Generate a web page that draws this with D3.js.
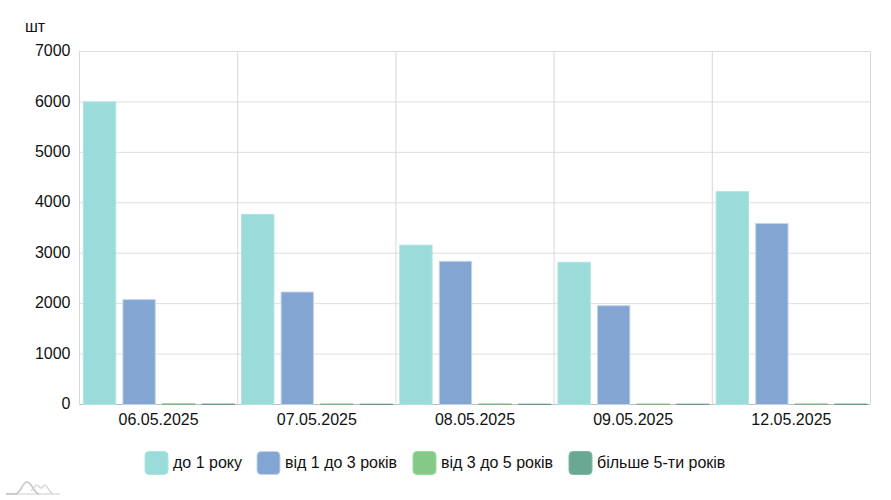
<!DOCTYPE html>
<html>
<head>
<meta charset="utf-8">
<script src="https://cdn.jsdelivr.net/npm/d3@7"></script>
<style>
  html, body { margin: 0; padding: 0; background: #fff; }
  text { font-family: "Liberation Sans", Arial, sans-serif; fill: #111; }
</style>
</head>
<body>
<svg id="chart" width="891" height="500"></svg>
<script>
const dates = ['06.05.2025', '07.05.2025', '08.05.2025', '09.05.2025', '12.05.2025'];
const seriesNames = ['до 1 року', 'від 1 до 3 років', 'від 3 до 5 років', 'більше 5-ти років'];
const upTo1 = [6000, 3770, 3160, 2820, 4220];
const from1To3 = [2080, 2230, 2840, 1960, 3590];
const from3To5 = [12, 10, 10, 8, 10];
const over5 = [8, 6, 6, 6, 8];
const yTicks = [0, 1000, 2000, 3000, 4000, 5000, 6000, 7000];
const unitLabel = 'шт';

const colors = ['#99dcda', '#82a5d2', '#85c988', '#6ba894'];
const borders = ['#ade3e1', '#c3d4ea', '#85b488', '#6b9a8c'];
const allSeries = [upTo1, from1To3, from3To5, over5];

const margins = { top: 51.5, bottom: 95.5, left: 79.5, right: 20.5 };
const width = 891;
const height = 500;

const svg = d3.select('#chart');

const x = d3.scaleBand().domain(dates).range([margins.left, width - margins.right]);
const xInner = d3.scaleBand().domain(d3.range(allSeries.length)).range([0, x.bandwidth()]).paddingInner(0.17).paddingOuter(0.085);
const y = d3.scaleLinear().domain([0, 7000]).range([height - margins.bottom, margins.top]);

// grid
svg.append('g')
  .selectAll('line')
  .data(yTicks)
  .join('line')
  .attr('x1', margins.left)
  .attr('x2', width - margins.right)
  .attr('y1', (d) => y(d))
  .attr('y2', (d) => y(d))
  .attr('stroke', (d) => (d === 0 ? '#bdbdbd' : '#dedede'));

svg.append('g')
  .selectAll('line')
  .data([...dates.map((d) => x(d)), width - margins.right])
  .join('line')
  .attr('x1', (d) => d)
  .attr('x2', (d) => d)
  .attr('y1', margins.top)
  .attr('y2', height - margins.bottom)
  .attr('stroke', '#d8d8d8');

// bars, border sits inside the bar width
const groups = svg.append('g')
  .selectAll('g')
  .data(allSeries)
  .join('g')
  .attr('fill', (d, i) => colors[i])
  .attr('stroke', (d, i) => borders[i]);

groups.each(function (values, i) {
  d3.select(this)
    .selectAll('rect')
    .data(values)
    .join('rect')
    .attr('x', (d, j) => x(dates[j]) + xInner(i) + 0.5)
    .attr('width', xInner.bandwidth() - 0.5)
    .attr('y', (d) => y(d))
    .attr('height', (d) => y(0) - y(d));
});

// axes
const yAxis = d3.axisLeft(y).tickValues(yTicks).tickSize(0).tickPadding(9).tickFormat(d3.format('d'));
const yG = svg.append('g').attr('transform', `translate(${margins.left},-1)`).call(yAxis);
yG.select('.domain').remove();
yG.selectAll('text').attr('font-size', 16).style('font-family', '"Liberation Sans"');

const xAxis = d3.axisBottom(x).tickSize(0).tickPadding(9);
const xG = svg.append('g').attr('transform', `translate(0,${height - margins.bottom})`).call(xAxis);
xG.select('.domain').remove();
xG.selectAll('text').attr('font-size', 16).style('font-family', '"Liberation Sans"');

svg.append('text')
  .attr('x', 25)
  .attr('y', 32)
  .attr('font-size', 16)
  .text(unitLabel);

// legend
const legendX = [144.5, 256.5, 412.5, 568.5];
const legend = svg.append('g')
  .selectAll('g')
  .data(seriesNames)
  .join('g')
  .attr('transform', (d, i) => `translate(${legendX[i]},451)`);

legend.append('rect')
  .attr('x', 0.5)
  .attr('y', 0.5)
  .attr('width', 23)
  .attr('height', 23)
  .attr('rx', 4)
  .attr('fill', (d, i) => colors[i])
  .attr('stroke', (d, i) => (i < 2 ? borders[i] : d3.color(colors[i]).brighter(0.3)));

legend.append('text')
  .attr('x', 28.5)
  .attr('y', 16.5)
  .attr('font-size', 16)
  .text((d) => d);

// small watermark in the corner
const logo = svg.append('g').attr('fill', 'none').attr('stroke-width', 1.5);
logo.append('path')
  .attr('d', 'M6 494 H60')
  .attr('stroke', '#dedede');
logo.append('path')
  .attr('d', 'M6 494 H16 C21 492 23 482 27 482 C32 482 34 494 39 494')
  .attr('stroke', '#c4c4c4');
logo.append('path')
  .attr('d', 'M31 491 C34 488 35 485 37 485 C39 485 39 488 41 488 C43 488 43 485 45 485 C47 485 49 492 53 494')
  .attr('stroke', '#d8d8d8');
</script>
</body>
</html>
